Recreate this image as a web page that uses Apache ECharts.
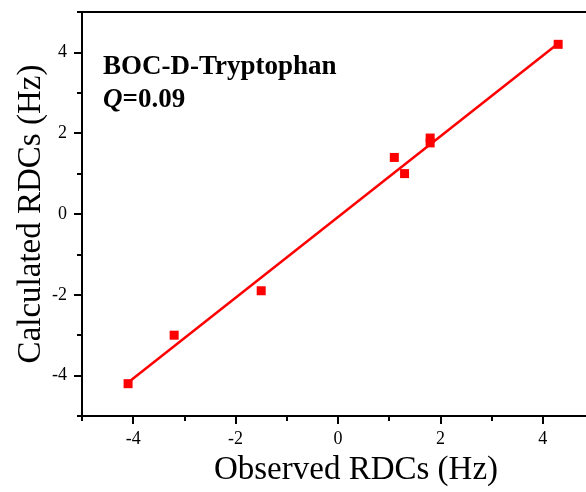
<!DOCTYPE html>
<html>
<head>
<meta charset="utf-8">
<style>
  html, body { margin: 0; padding: 0; background: #fff; overflow: hidden; }
  /* chart is wider than the window: the right frame falls outside the picture */
  #chart { width: 600px; height: 492px; }
</style>
<script src="https://cdn.jsdelivr.net/npm/echarts@6/dist/echarts.min.js"></script>
</head>
<body>
<div id="chart"></div>
<script>
// observed vs calculated RDCs (Hz)
const observed = [-4.1, -3.2, -1.5, 1.1, 1.3, 1.8, 1.8, 4.3];
const calculated = [-4.2, -3.0, -1.9, 1.4, 1.0, 1.88, 1.76, 4.2];
// fitted line end points
const fitX = [-4.1, 4.3];
const fitY = [-4.17, 4.22];
const majorTicks = [-4, -2, 0, 2, 4];
const minorTicks = [-5, -3, -1, 1, 3, 5];

const FONT = "'Liberation Serif', 'Times New Roman', serif";

const chart = echarts.init(document.getElementById("chart"), null, { renderer: "canvas" });

const axisBase = {
  type: "value",
  min: -5,
  max: 5,
  splitLine: { show: false },
};

const option = {
  animation: false,
  backgroundColor: "#fff",
  grid: { left: 82, top: 12, right: 6, bottom: 73, containLabel: false },
  xAxis: [
    {
      ...axisBase,
      position: "bottom",
      name: "Observed RDCs (Hz)",
      nameLocation: "middle",
      nameGap: 38,
      nameMoveOverlap: false,
      nameTextStyle: { fontFamily: FONT, fontSize: 33, color: "#000", padding: [0, 0, 0, 36] },
      axisLine: { onZero: false, lineStyle: { color: "#000", width: 2 } },
      axisTick: { customValues: minorTicks, length: 5, lineStyle: { color: "#000", width: 2 } },
      axisLabel: { customValues: majorTicks, margin: 14, fontFamily: FONT, fontSize: 18, color: "#000" },
    },
    {
      ...axisBase,
      position: "bottom",
      axisLine: { show: false, onZero: false },
      axisTick: { customValues: majorTicks, length: 8, lineStyle: { color: "#000", width: 2 } },
      axisLabel: { show: false },
    },
    {
      ...axisBase,
      position: "top",
      axisLine: { onZero: false, lineStyle: { color: "#000", width: 2 } },
      axisTick: { show: false },
      axisLabel: { show: false },
    },
  ],
  yAxis: [
    {
      ...axisBase,
      position: "left",
      name: "Calculated RDCs (Hz)",
      nameLocation: "middle",
      nameGap: 34,
      nameMoveOverlap: false,
      nameTextStyle: { fontFamily: FONT, fontSize: 33, color: "#000" },
      axisLine: { onZero: false, lineStyle: { color: "#000", width: 2 } },
      axisTick: { customValues: minorTicks, length: 5, lineStyle: { color: "#000", width: 2 } },
      axisLabel: { customValues: majorTicks, margin: 15, fontFamily: FONT, fontSize: 18, color: "#000" },
    },
    {
      ...axisBase,
      position: "left",
      axisLine: { show: false, onZero: false },
      axisTick: { customValues: majorTicks, length: 8, lineStyle: { color: "#000", width: 2 } },
      axisLabel: { show: false },
    },
  ],
  graphic: [
    {
      type: "text",
      left: 103,
      top: 54,
      style: {
        text: "BOC-D-Tryptophan",
        font: "bold 27px " + FONT,
        fill: "#000",
      },
    },
    {
      type: "text",
      left: 103,
      top: 87,
      style: {
        text: "{q|Q}{v|=0.09}",
        rich: {
          q: { fontFamily: FONT, fontSize: 27, fontWeight: "bold", fontStyle: "italic", fill: "#000" },
          v: { fontFamily: FONT, fontSize: 27, fontWeight: "bold", fill: "#000" },
        },
      },
    },
  ],
  series: [
    {
      type: "line",
      xAxisIndex: 0,
      yAxisIndex: 0,
      data: fitX.map((x, i) => [x, fitY[i]]),
      showSymbol: false,
      lineStyle: { color: "#ff0000", width: 2.5 },
      z: 2,
    },
    {
      type: "scatter",
      xAxisIndex: 0,
      yAxisIndex: 0,
      data: observed.map((x, i) => [x, calculated[i]]),
      symbol: "rect",
      symbolSize: 9,
      itemStyle: { color: "#ff0000", opacity: 1 },
      z: 3,
    },
  ],
};

chart.setOption(option);
</script>
</body>
</html>
